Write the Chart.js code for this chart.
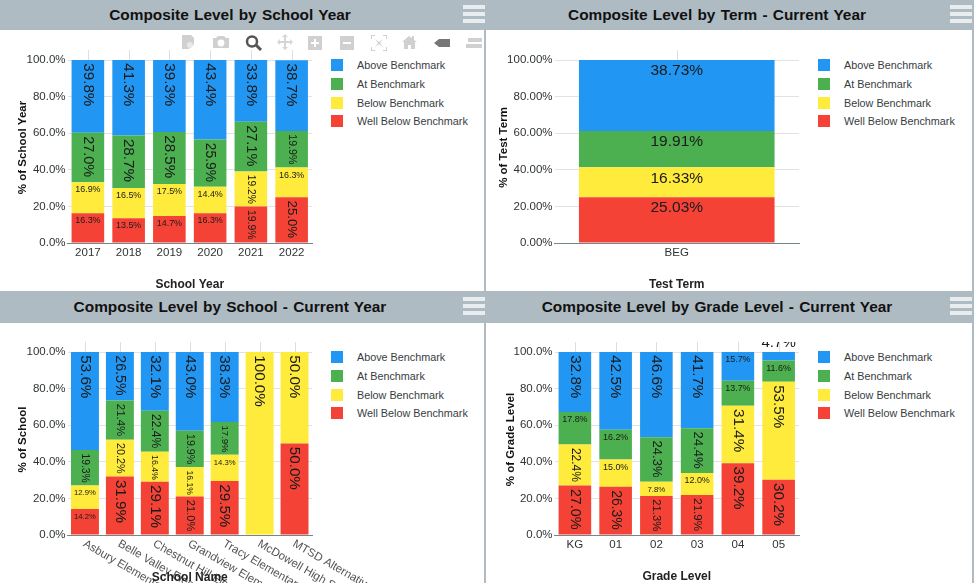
<!DOCTYPE html>
<html>
<head>
<meta charset="utf-8">
<title>Composite Level</title>
<script src="https://cdn.jsdelivr.net/npm/chart.js@4"></script>
<style>
    html, body { margin: 0; padding: 0; background: #fff; }
    body { position: relative; width: 974px; height: 583px; overflow: hidden; font-family: "Liberation Sans", Arial, sans-serif; }
    .header { position: absolute; left: 0; width: 974px; background: #aebbc3; }
    .title { position: absolute; width: 460px; text-align: center; font-weight: bold; font-size: 15.4px; line-height: 20px; color: #111; word-spacing: 1px; }
    .burger { position: absolute; width: 22px; height: 4px; background: #e9edef; }
    .vline { position: absolute; width: 2px; background: #aebbc3; }
    canvas { position: absolute; }
    .legend-box { position: absolute; width: 12px; height: 12px; }
    .legend-text { position: absolute; font-size: 10.8px; line-height: 14px; color: #373d3f; white-space: nowrap; }
    #toolbar { position: absolute; left: 175px; top: 33px; }
</style>
</head>
<body>
<script>
"use strict";
const seriesNames = ['Above Benchmark', 'At Benchmark', 'Below Benchmark', 'Well Below Benchmark'];
const seriesColors = ['#2196f3', '#4caf50', '#ffeb3b', '#f44336'];

const years = ['2017', '2018', '2019', '2020', '2021', '2022'];
const aboveByYear = [39.8, 41.3, 39.3, 43.4, 33.8, 38.7];
const atByYear = [27.0, 28.7, 28.5, 25.9, 27.1, 19.9];
const belowByYear = [16.9, 16.5, 17.5, 14.4, 19.2, 16.3];
const wellBelowByYear = [16.3, 13.5, 14.7, 16.3, 19.9, 25.0];

const terms = ['BEG'];
const aboveByTerm = [38.73];
const atByTerm = [19.91];
const belowByTerm = [16.33];
const wellBelowByTerm = [25.03];

const schools = ['Asbury Elementary School', 'Belle Valley Elementary School', 'Chestnut Hill Elementary School',
    'Grandview Elementary School', 'Tracy Elementary School', 'McDowell High School', 'MTSD Alternative School'];
const aboveBySchool = [53.6, 26.5, 32.1, 43.0, 38.3, 0, 0];
const atBySchool = [19.3, 21.4, 22.4, 19.9, 17.9, 0, 0];
const belowBySchool = [12.9, 20.2, 16.4, 16.1, 14.3, 100.0, 50.0];
const wellBelowBySchool = [14.2, 31.9, 29.1, 21.0, 29.5, 0, 50.0];

const grades = ['KG', '01', '02', '03', '04', '05'];
const aboveByGrade = [32.8, 42.5, 46.6, 41.7, 15.7, 4.7];
const atByGrade = [17.8, 16.2, 24.3, 24.4, 13.7, 11.6];
const belowByGrade = [22.4, 15.0, 7.8, 12.0, 31.4, 53.5];
const wellBelowByGrade = [27.0, 26.3, 21.3, 21.9, 39.2, 30.2];

const yTicks = [0, 20, 40, 60, 80, 100];

const FONT = '"Liberation Sans", Arial, sans-serif';
const TICK_COLOR = '#2f3436';

// labels follow the apex rules: big and rotated when the segment is tall, small and flat otherwise
var segmentLabels = {
    id: 'segmentLabels',
    afterDatasetsDraw(chart, args, opts) {
        let ctx = chart.ctx;
        let area = chart.chartArea;
        ctx.save();
        ctx.beginPath();
        ctx.rect(0, area.top - 10, chart.width, chart.height);
        ctx.clip();
        ctx.fillStyle = '#1a1a1a';
        chart.data.datasets.forEach((ds, d) => {
            chart.getDatasetMeta(d).data.forEach((bar, i) => {
                let v = ds.data[i];
                if (!v) return;
                let text = v.toFixed(opts.digits) + '%';
                let seg = bar.base - bar.y;
                ctx.save();
                if (bar.width > 60) {
                    ctx.font = '15.5px ' + FONT;
                    ctx.textAlign = 'center';
                    ctx.textBaseline = 'middle';
                    ctx.fillText(text, bar.x, bar.y + 11);
                } else if (v < 5) {
                    ctx.font = '15px ' + FONT;
                    ctx.textAlign = 'center';
                    ctx.textBaseline = 'alphabetic';
                    ctx.fillText(text, bar.x, bar.y - 5);
                } else if (seg > bar.width + 1) {
                    let size = Math.min(15.2, seg * 0.83 / 2.835);
                    ctx.font = size + 'px ' + FONT;
                    ctx.translate(bar.x, bar.y + 3.3);
                    ctx.rotate(Math.PI / 2);
                    ctx.textAlign = 'left';
                    ctx.textBaseline = 'middle';
                    ctx.fillText(text, 0, 0);
                } else {
                    let size = Math.min(9.2, bar.width * 0.78 / 2.835, seg * 0.55);
                    ctx.font = size + 'px ' + FONT;
                    ctx.textAlign = 'center';
                    ctx.textBaseline = 'middle';
                    ctx.fillText(text, bar.x, bar.y + 7.7);
                }
                ctx.restore();
            });
        });
        ctx.restore();
    }
};

// the vertical grid sticks out a little above the plot
var gridTips = {
    id: 'gridTips',
    beforeDatasetsDraw(chart) {
        let ctx = chart.ctx;
        let area = chart.chartArea;
        let x = chart.scales.x;
        ctx.save();
        ctx.strokeStyle = '#dedede';
        ctx.lineWidth = 1;
        chart.data.labels.forEach((l, i) => {
            let px = Math.round(x.getPixelForValue(i)) + 0.5;
            ctx.beginPath();
            ctx.moveTo(px, area.top - 10);
            ctx.lineTo(px, area.top);
            ctx.stroke();
        });
        ctx.restore();
    }
};

// slanted category names, before the scales so the axis title stays on top
var slantedLabels = {
    id: 'slantedLabels',
    beforeDraw(chart) {
        if (!chart.options.plugins.slantedLabels.on) return;
        let ctx = chart.ctx;
        let x = chart.scales.x;
        chart.data.labels.forEach((l, i) => {
            ctx.save();
            ctx.translate(x.getPixelForValue(i) - 1, chart.chartArea.bottom + 8);
            ctx.rotate(Math.PI / 6);
            ctx.font = '11.5px ' + FONT;
            ctx.fillStyle = '#555';
            ctx.textAlign = 'left';
            ctx.textBaseline = 'middle';
            ctx.fillText(l, 0, 0);
            ctx.restore();
        });
    }
};

// y title sits a bit above the middle of the plot, the scale title can't do that
var yTitle = {
    id: 'yTitle',
    afterDraw(chart, args, opts) {
        let ctx = chart.ctx;
        let area = chart.chartArea;
        ctx.save();
        ctx.translate(opts.x, (area.top + area.bottom) / 2 - 4);
        ctx.rotate(-Math.PI / 2);
        ctx.font = 'bold 11.5px ' + FONT;
        ctx.fillStyle = '#111';
        ctx.textAlign = 'center';
        ctx.textBaseline = 'middle';
        ctx.fillText(opts.text, 0, 0);
        ctx.restore();
    }
};

function addDiv(cls, left, top, css) {
    let el = document.createElement('div');
    el.className = cls;
    el.style.left = left + 'px';
    el.style.top = top + 'px';
    if (css) Object.assign(el.style, css);
    document.body.appendChild(el);
    return el;
}

function addPanel(p) {
    addDiv('title', p.left, p.top + 5).textContent = p.title;
    [5, 12, 19].forEach(y => addDiv('burger', p.left + 463, p.top + y));

    seriesNames.forEach((name, i) => {
        let y = p.top + 59 + i * 18.75;
        addDiv('legend-box', p.left + 331, y, { background: seriesColors[i] });
        addDiv('legend-text', p.left + 357, y - 1).textContent = name;
    });

    let canvas = document.createElement('canvas');
    canvas.width = 484;
    canvas.height = 261;
    canvas.style.left = p.left + 'px';
    canvas.style.top = (p.top + 30) + 'px';
    document.body.appendChild(canvas);

    new Chart(canvas, {
        type: 'bar',
        data: {
            labels: p.labels,
            datasets: [3, 2, 1, 0].map(i => ({
                label: seriesNames[i],
                data: p.series[i],
                backgroundColor: seriesColors[i],
                barPercentage: 0.8,
                categoryPercentage: 1,
            })),
        },
        options: {
            responsive: false,
            animation: false,
            events: [],
            layout: { padding: { top: 30, right: 172, left: 0, bottom: 0 } },
            plugins: {
                legend: { display: false },
                tooltip: { enabled: false },
                segmentLabels: { digits: p.digits },
                slantedLabels: { on: !!p.slanted },
                yTitle: { text: p.yTitle, x: p.yTitleX },
            },
            scales: {
                x: {
                    stacked: true,
                    afterFit: s => { s.height = 48; },
                    grid: { display: false, drawTicks: false },
                    border: { color: '#78848c' },
                    ticks: {
                        display: !p.slanted,
                        color: TICK_COLOR,
                        padding: 3,
                        font: { family: FONT, size: 11.5 },
                        maxRotation: 0,
                    },
                    title: {
                        display: true,
                        text: p.xTitle,
                        color: '#222',
                        padding: { top: 0, bottom: p.slanted ? -2 : -1 },
                        font: { family: FONT, size: 12, weight: 'bold' },
                    },
                },
                y: {
                    stacked: true,
                    min: 0,
                    max: 100,
                    afterFit: s => { s.width = 67.5; },
                    afterBuildTicks: s => { s.ticks = yTicks.map(v => ({ value: v })); },
                    grid: { color: '#e2e2e2', drawTicks: false },
                    border: { display: false },
                    ticks: {
                        color: TICK_COLOR,
                        padding: 2,
                        font: { family: FONT, size: 11.5 },
                        callback: v => v.toFixed(p.digits) + '%',
                    },
                },
            },
        },
        plugins: [gridTips, segmentLabels, slantedLabels, yTitle],
    });
}

addDiv('header', 0, 0, { height: '30px' });
addDiv('header', 0, 291, { height: '32px' });
addDiv('vline', 484, 30, { height: '553px' });
addDiv('vline', 972, 30, { height: '553px' });

addPanel({
    left: 0, top: 0, title: 'Composite Level by School Year', labels: years, digits: 1,
    series: [aboveByYear, atByYear, belowByYear, wellBelowByYear],
    xTitle: 'School Year', yTitle: '% of School Year', yTitleX: 23,
});
addPanel({
    left: 487, top: 0, title: 'Composite Level by Term - Current Year', labels: terms, digits: 2,
    series: [aboveByTerm, atByTerm, belowByTerm, wellBelowByTerm],
    xTitle: 'Test Term', yTitle: '% of Test Term', yTitleX: 17,
});
addPanel({
    left: 0, top: 292, title: 'Composite Level by School - Current Year', labels: schools, digits: 1, slanted: true,
    series: [aboveBySchool, atBySchool, belowBySchool, wellBelowBySchool],
    xTitle: 'School Name', yTitle: '% of School', yTitleX: 23,
});
addPanel({
    left: 487, top: 292, title: 'Composite Level by Grade Level - Current Year', labels: grades, digits: 1,
    series: [aboveByGrade, atByGrade, belowByGrade, wellBelowByGrade],
    xTitle: 'Grade Level', yTitle: '% of Grade Level', yTitleX: 24,
});
</script>
<svg id="toolbar" width="310" height="20" viewBox="0 0 310 20">
    <g fill="#d0d0d0" stroke="none">
        <path d="M7 2h9l3 3v7l-3 1-2 3H7z"/><circle cx="15" cy="12" r="3" fill="#e8e8e8"/>
        <path d="M38 5h3l2-2h6l2 2h3v10H38z"/><circle cx="46" cy="10" r="3.4" fill="#fff"/>
        <path d="M102 9l3-3v2h4V4h-2l3-3 3 3h-2v4h4V6l3 3-3 3v-2h-4v4h2l-3 3-3-3h2v-4h-4v2z" fill="#d6d6d6"/>
        <rect x="133" y="3" width="14" height="14"/>
        <path d="M136 10h8M140 6v8" stroke="#fff" stroke-width="2"/>
        <rect x="165" y="3" width="14" height="14"/>
        <path d="M168 10h8" stroke="#fff" stroke-width="2"/>
        <path d="M196 2h4v1h-3v3h-1zM208 2h4v4h-1V3h-3zM196 14h1v3h3v1h-4zM211 14h1v4h-4v-1h3zM200 6l4 3 4-3-3 4 3 4-4-3-4 3 3-4z"/>
        <path d="M227 9l7-6 3 2V3h2v4l3 2h-2v7h-4v-4h-3v4h-4V9z"/>
        <path d="M259 10l5-4h11v8h-11z" fill="#777"/>
        <path d="M293 5h14v4h-14zM291 11h16v4h-16z"/>
    </g>
    <circle cx="77" cy="8.500" r="5" fill="#fff" stroke="#555" stroke-width="2.500"/>
    <path d="M81 12l5 5" stroke="#555" stroke-width="3"/>
</svg>
</body>
</html>
